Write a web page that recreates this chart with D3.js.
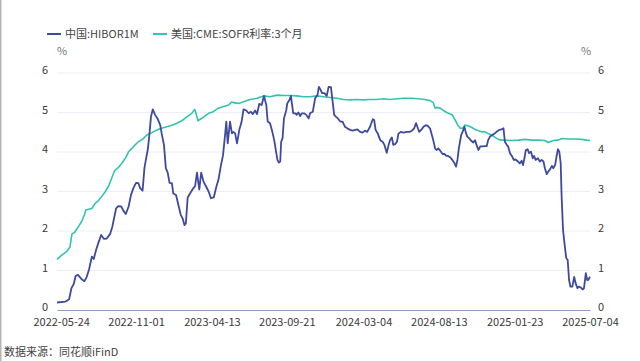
<!DOCTYPE html>
<html>
<head>
<meta charset="utf-8">
<script src="https://cdn.jsdelivr.net/npm/d3@7"></script>
<style>
  body { margin: 0; background: #fff; }
  svg { display: block; font-family: "Noto Sans CJK SC", "Noto Sans", sans-serif; }
</style>
</head>
<body>
<div id="chart"></div>
<script>
// series names
const seriesNames = ["中国:HIBOR1M", "美国:CME:SOFR利率:3个月"];
const seriesColors = ["#3e4a9b", "#33c3b0"];

// x tick labels
const xTickLabels = ["2022-05-24", "2022-11-01", "2023-04-13", "2023-09-21",
  "2024-03-04", "2024-08-13", "2025-01-23", "2025-07-04"];
const yTicks = [0, 1, 2, 3, 4, 5, 6];

// HIBOR 1M (%)
const hiborDates = [
  "2022-05-15","2022-06-02","2022-06-10","2022-06-15","2022-06-20","2022-06-24","2022-06-29","2022-07-07",
  "2022-07-13","2022-07-18","2022-07-23","2022-07-29","2022-08-02","2022-08-07","2022-08-12","2022-08-18",
  "2022-08-24","2022-08-30","2022-09-06","2022-09-11","2022-09-19","2022-09-24","2022-09-30","2022-10-05",
  "2022-10-10","2022-10-16","2022-10-21","2022-10-26","2022-11-01","2022-11-06","2022-11-10","2022-11-15",
  "2022-11-19","2022-11-22","2022-11-26","2022-11-29","2022-12-03","2022-12-07","2022-12-12","2022-12-17",
  "2022-12-23","2022-12-26","2022-12-31","2023-01-04","2023-01-08","2023-01-12","2023-01-17","2023-01-20",
  "2023-01-26","2023-01-31","2023-02-05","2023-02-09","2023-02-13","2023-02-16","2023-02-20","2023-02-25",
  "2023-03-04","2023-03-08","2023-03-12","2023-03-17","2023-03-21","2023-03-26","2023-03-31","2023-04-06",
  "2023-04-11","2023-04-17","2023-04-23","2023-04-27","2023-05-02","2023-05-07","2023-05-12","2023-05-14",
  "2023-05-17","2023-05-22","2023-05-26","2023-05-29","2023-06-02","2023-06-06","2023-06-11","2023-06-16",
  "2023-06-20","2023-06-26","2023-07-01","2023-07-06","2023-07-10","2023-07-15","2023-07-19","2023-07-24",
  "2023-07-29","2023-08-03","2023-08-08","2023-08-11","2023-08-16","2023-08-21","2023-08-25","2023-08-29",
  "2023-09-01","2023-09-04","2023-09-07","2023-09-09","2023-09-12","2023-09-15","2023-09-20","2023-09-22",
  "2023-09-27","2023-09-30","2023-10-02","2023-10-05","2023-10-10","2023-10-12","2023-10-16","2023-10-20",
  "2023-10-23","2023-10-28","2023-11-02","2023-11-07","2023-11-10","2023-11-16","2023-11-21","2023-11-26",
  "2023-11-29","2023-12-02","2023-12-06","2023-12-11","2023-12-16","2023-12-20","2023-12-25","2023-12-27",
  "2024-01-01","2024-01-05","2024-01-09","2024-01-14","2024-01-19","2024-01-24","2024-01-29","2024-02-04",
  "2024-02-10","2024-02-15","2024-02-20","2024-02-26","2024-03-02","2024-03-07","2024-03-12","2024-03-18",
  "2024-03-24","2024-03-27","2024-03-30","2024-04-04","2024-04-09","2024-04-14","2024-04-18","2024-04-23",
  "2024-04-27","2024-04-30","2024-05-04","2024-05-07","2024-05-11","2024-05-15","2024-05-18","2024-05-23",
  "2024-05-29","2024-06-05","2024-06-12","2024-06-16","2024-06-21","2024-06-25","2024-06-29","2024-07-02",
  "2024-07-07","2024-07-11","2024-07-16","2024-07-20","2024-07-25","2024-07-29","2024-08-01","2024-08-05",
  "2024-08-08","2024-08-12","2024-08-16","2024-08-21","2024-08-25","2024-08-29","2024-09-02","2024-09-07",
  "2024-09-11","2024-09-15","2024-09-19","2024-09-22","2024-09-25","2024-09-30","2024-10-03","2024-10-07",
  "2024-10-10","2024-10-13","2024-10-17","2024-10-21","2024-10-26","2024-10-30","2024-11-02","2024-11-06",
  "2024-11-10","2024-11-15","2024-11-20","2024-11-24","2024-11-27","2024-12-01","2024-12-06","2024-12-10",
  "2024-12-15","2024-12-21","2024-12-26","2024-12-30","2025-01-02","2025-01-06","2025-01-09","2025-01-13",
  "2025-01-17","2025-01-21","2025-01-25","2025-01-30","2025-02-03","2025-02-07","2025-02-10","2025-02-13",
  "2025-02-16","2025-02-20","2025-02-23","2025-02-27","2025-03-03","2025-03-06","2025-03-09","2025-03-14",
  "2025-03-18","2025-03-22","2025-03-26","2025-03-29","2025-04-02","2025-04-05","2025-04-09","2025-04-13",
  "2025-04-16","2025-04-20","2025-04-23","2025-04-26","2025-04-29","2025-05-02","2025-05-04","2025-05-07",
  "2025-05-11","2025-05-14","2025-05-17","2025-05-20","2025-05-23","2025-05-27","2025-05-31","2025-06-03",
  "2025-06-07","2025-06-10","2025-06-14","2025-06-18","2025-06-21","2025-06-25","2025-06-28","2025-06-30",
  "2025-07-04"];
const hiborValues = [
  0.19,0.21,0.27,0.55,0.66,0.86,0.89,0.78,
  0.73,0.84,1.03,1.35,1.29,1.52,1.70,1.90,
  1.80,1.81,1.92,2.11,2.57,2.63,2.62,2.51,
  2.43,2.62,2.91,3.08,3.22,3.21,3.08,3.02,
  3.59,3.80,4.05,4.35,4.89,5.08,4.94,4.85,
  4.68,4.47,4.18,3.59,3.48,3.22,3.21,2.95,
  2.91,2.66,2.41,2.32,2.15,2.19,2.85,2.95,
  3.08,3.14,3.48,3.05,3.48,3.25,3.14,3.00,
  2.83,2.85,3.14,3.29,3.63,3.92,4.51,4.77,
  4.22,4.77,4.47,4.51,4.47,4.22,4.56,4.77,
  5.08,5.05,4.98,5.02,4.96,5.05,4.96,5.22,
  5.19,5.42,5.19,4.77,4.73,4.51,4.30,4.01,
  3.80,3.73,3.76,4.26,4.35,4.85,5.06,5.23,
  5.32,5.42,5.23,4.98,4.98,4.94,5.00,4.91,
  4.98,4.98,4.94,4.85,4.98,5.02,5.36,5.44,
  5.65,5.59,5.49,5.49,5.42,5.65,5.64,5.44,
  4.94,4.89,4.85,4.77,4.77,4.64,4.60,4.56,
  4.54,4.56,4.57,4.51,4.49,4.54,4.51,4.64,
  4.83,4.81,4.56,4.46,4.30,4.26,4.18,3.98,
  4.18,4.30,4.37,4.18,4.20,4.26,4.46,4.51,
  4.49,4.51,4.51,4.54,4.60,4.73,4.60,4.51,
  4.57,4.64,4.68,4.66,4.60,4.43,4.30,4.09,
  4.05,4.09,4.03,3.95,3.95,3.90,3.90,3.86,
  3.80,3.73,3.63,3.80,4.09,4.43,4.51,4.64,
  4.49,4.39,4.35,4.29,4.24,4.30,4.18,4.05,
  4.14,4.14,4.15,4.15,4.30,4.39,4.43,4.46,
  4.51,4.56,4.57,4.60,4.26,4.18,4.14,3.97,
  3.90,3.80,3.81,3.76,3.71,3.78,3.67,3.84,
  4.05,4.07,3.97,4.01,3.84,3.90,3.80,3.84,
  3.76,3.80,3.76,3.59,3.44,3.50,3.56,3.65,
  3.59,3.67,3.88,4.07,4.01,3.71,2.87,2.03,
  1.60,1.31,1.27,0.76,0.59,0.59,0.84,0.68,
  0.55,0.59,0.57,0.52,0.55,0.93,0.76,0.76,
  0.84];

// CME SOFR 3M (%)
const sofrDates = [
  "2022-05-15","2022-05-25","2022-06-05","2022-06-12","2022-06-16","2022-06-23","2022-06-30","2022-07-07",
  "2022-07-13","2022-07-16","2022-07-22","2022-07-29","2022-08-05","2022-08-12","2022-08-19","2022-08-27",
  "2022-09-03","2022-09-08","2022-09-16","2022-09-24","2022-10-01","2022-10-09","2022-10-16","2022-10-23",
  "2022-10-30","2022-11-06","2022-11-15","2022-11-24","2022-12-05","2022-12-16","2022-12-26","2023-01-06",
  "2023-01-17","2023-01-28","2023-02-07","2023-02-18","2023-03-01","2023-03-07","2023-03-09","2023-03-14",
  "2023-03-19","2023-03-26","2023-04-06","2023-04-16","2023-04-27","2023-05-08","2023-05-19","2023-05-26",
  "2023-05-29","2023-06-09","2023-06-20","2023-07-04","2023-07-19","2023-08-02","2023-08-16","2023-08-31",
  "2023-09-14","2023-09-28","2023-10-12","2023-10-27","2023-11-10","2023-11-25","2023-12-09","2023-12-23",
  "2024-01-07","2024-01-21","2024-02-04","2024-02-19","2024-03-04","2024-03-18","2024-04-02","2024-04-16",
  "2024-04-30","2024-05-15","2024-05-29","2024-06-12","2024-06-16","2024-06-30","2024-07-14","2024-07-25",
  "2024-08-01","2024-08-05","2024-08-08","2024-08-16","2024-08-23","2024-08-30","2024-09-06","2024-09-11",
  "2024-09-17","2024-09-23","2024-09-28","2024-10-03","2024-10-08","2024-10-16","2024-10-23","2024-10-30",
  "2024-11-06","2024-11-13","2024-11-20","2024-11-27","2024-12-05","2024-12-12","2024-12-19","2024-12-26",
  "2025-01-02","2025-01-17","2025-01-31","2025-02-14","2025-03-01","2025-03-15","2025-03-29","2025-04-05",
  "2025-04-09","2025-04-16","2025-04-27","2025-05-04","2025-05-19","2025-06-02","2025-06-16","2025-06-27",
  "2025-07-04"];
const sofrValues = [
  1.28,1.39,1.48,1.60,1.92,1.98,2.11,2.24,
  2.41,2.53,2.55,2.57,2.70,2.77,2.87,3.00,
  3.14,3.29,3.53,3.61,3.71,3.84,4.01,4.09,
  4.18,4.26,4.32,4.43,4.49,4.56,4.60,4.64,
  4.68,4.73,4.79,4.89,4.98,5.08,5.02,4.79,
  4.83,4.88,4.98,5.02,5.11,5.15,5.19,5.27,
  5.25,5.23,5.27,5.33,5.36,5.42,5.40,5.44,
  5.43,5.43,5.42,5.40,5.40,5.42,5.40,5.38,
  5.36,5.33,5.32,5.33,5.32,5.33,5.33,5.35,
  5.33,5.35,5.36,5.36,5.36,5.35,5.33,5.30,
  5.25,5.11,5.13,5.11,5.05,5.00,4.96,4.94,
  4.81,4.68,4.60,4.60,4.68,4.66,4.62,4.57,
  4.54,4.51,4.51,4.47,4.43,4.37,4.32,4.30,
  4.30,4.29,4.30,4.32,4.30,4.30,4.29,4.24,
  4.26,4.29,4.30,4.34,4.33,4.33,4.32,4.30,
  4.29];

const width = 640, height = 361;
const margin = {top: 73, right: 50, bottom: 51, left: 57};
const parse = d3.timeParse("%Y-%m-%d");

const svg = d3.select("#chart").append("svg")
  .attr("width", width)
  .attr("height", height);

// gray left edge
svg.append("rect").attr("x", 0).attr("y", 0).attr("width", 1.5).attr("height", height).attr("fill", "#b4b4b4");

const hibor = hiborDates.map((d, i) => ({date: parse(d), value: hiborValues[i]}));
const sofr = sofrDates.map((d, i) => ({date: parse(d), value: sofrValues[i]}));

const x = d3.scaleTime()
  .domain([parse(hiborDates[0]), parse(xTickLabels[xTickLabels.length - 1])])
  .range([margin.left, width - margin.right]);

const y = d3.scaleLinear()
  .domain([0, 6])
  .range([height - margin.bottom, margin.top]);

// grid lines
svg.append("g")
  .selectAll("line")
  .data(yTicks.filter(t => t > 0))
  .join("line")
    .attr("x1", margin.left)
    .attr("x2", width - margin.right)
    .attr("y1", d => y(d))
    .attr("y2", d => y(d))
    .attr("stroke", "#eceef6")
    .attr("stroke-width", 1);

// left axis
const yLeft = svg.append("g")
  .attr("transform", `translate(${margin.left},0)`)
  .call(d3.axisLeft(y).tickValues(yTicks).tickSize(0).tickPadding(9).tickFormat(d3.format("d")));
yLeft.select(".domain").remove();

// right axis
const yRight = svg.append("g")
  .attr("transform", `translate(${width - margin.right},0)`)
  .call(d3.axisRight(y).tickValues(yTicks).tickSize(0).tickPadding(8).tickFormat(d3.format("d")));
yRight.select(".domain").remove();

// y labels sit a little above their grid line
yLeft.selectAll(".tick text").attr("dy", "0.05em");
yRight.selectAll(".tick text").attr("dy", "0.05em");

// bottom axis
const xAxis = svg.append("g")
  .attr("transform", `translate(0,${y(0)})`)
  .call(d3.axisBottom(x).tickValues(xTickLabels.map(parse)).tickSize(0).tickPadding(8)
    .tickFormat(d3.timeFormat("%Y-%m-%d")));
xAxis.select(".domain").attr("stroke", "#8f9cc2").attr("stroke-width", 1.2);

svg.selectAll(".tick text")
  .attr("fill", "#3a3a3a")
  .style("font-size", "11px")
  .style("font-family", "'Noto Sans CJK SC', 'Noto Sans', sans-serif");

// unit labels
svg.append("text").attr("x", 62).attr("y", 55).attr("text-anchor", "middle")
  .attr("fill", "#777").style("font-size", "11px").text("%");
svg.append("text").attr("x", 586).attr("y", 55).attr("text-anchor", "middle")
  .attr("fill", "#777").style("font-size", "11px").text("%");

// lines
const line = d3.line()
  .x(d => x(d.date))
  .y(d => y(d.value));

svg.append("path")
  .datum(sofr)
  .attr("fill", "none")
  .attr("stroke", seriesColors[1])
  .attr("stroke-width", 1.6)
  .attr("stroke-linejoin", "round")
  .attr("d", line);

svg.append("path")
  .datum(hibor)
  .attr("fill", "none")
  .attr("stroke", seriesColors[0])
  .attr("stroke-width", 1.8)
  .attr("stroke-linejoin", "round")
  .attr("d", line);

// legend
const legendX = [47, 153];
const legend = svg.append("g")
  .selectAll("g")
  .data(seriesNames)
  .join("g")
    .attr("transform", (d, i) => `translate(${legendX[i]},34)`);
legend.append("line")
  .attr("x1", 0).attr("x2", 14).attr("y1", 0).attr("y2", 0)
  .attr("stroke", (d, i) => seriesColors[i])
  .attr("stroke-width", 2);
legend.append("text")
  .attr("x", 18).attr("y", 4)
  .attr("fill", "#444")
  .style("font-size", "11px")
  .text(d => d);

// source
svg.append("text")
  .attr("x", 4).attr("y", 356)
  .attr("fill", "#444")
  .style("font-size", "11px")
  .text("数据来源：同花顺iFinD");
</script>
</body>
</html>
